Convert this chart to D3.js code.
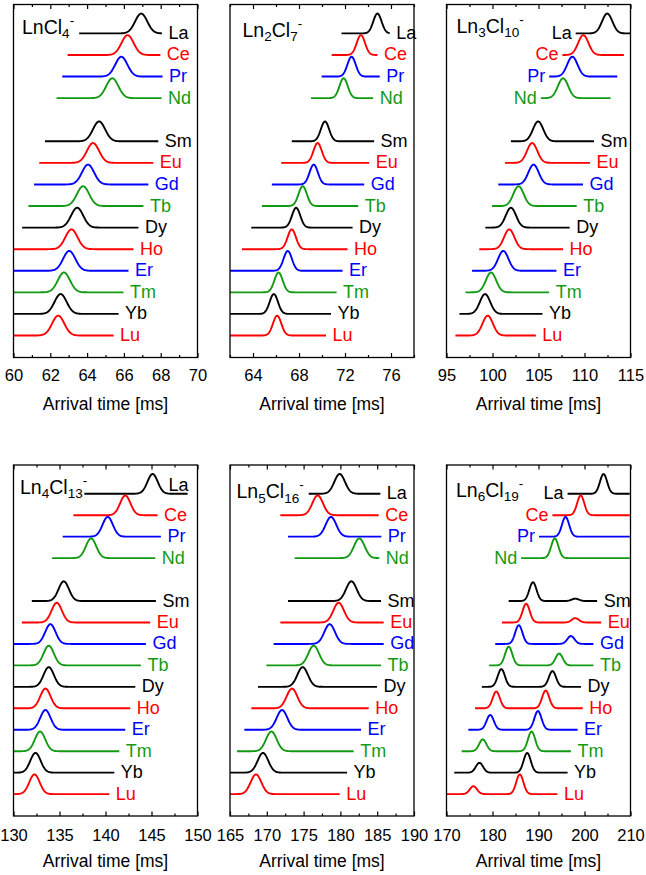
<!DOCTYPE html>
<html><head><meta charset="utf-8">
<script src="https://cdn.jsdelivr.net/npm/d3@7"></script>
<style>
body{margin:0;background:#fff}
svg{display:block}
text{font-family:Arial,"Liberation Sans",Helvetica,sans-serif}
</style>
</head><body>
<svg id="chart" width="646" height="875"></svg>
<script>
// ---------- DATA ----------
const elements = ["La","Ce","Pr","Nd","Sm","Eu","Gd","Tb","Dy","Ho","Er","Tm","Yb","Lu"];
const slots = [0,1,2,3,5,6,7,8,9,10,11,12,13,14];
const palette = ["#000000","#ff0000","#0000ff","#139a13"];

const titles = [
  [["LnCl",""],["4","sub"],["-","sup"]],
  [["Ln",""],["2","sub"],["Cl",""],["7","sub"],["-","sup"]],
  [["Ln",""],["3","sub"],["Cl",""],["10","sub"],["-","sup"]],
  [["Ln",""],["4","sub"],["Cl",""],["13","sub"],["-","sup"]],
  [["Ln",""],["5","sub"],["Cl",""],["16","sub"],["-","sup"]],
  [["Ln",""],["6","sub"],["Cl",""],["19","sub"],["-","sup"]]
];
const xTitle = "Arrival time [ms]";

const xDomains = [[60,70],[62,78],[95,115],[130,150],[165,190],[170,210]];
const majorTicks = [
  [60,62,64,66,68,70],
  [64,68,72,76],
  [95,100,105,110,115],
  [130,135,140,145,150],
  [165,170,175,180,185,190],
  [170,180,190,200,210]
];
const minorTicks = [
  [61,63,65,67,69],
  [62,66,70,74,78],
  [97.5,102.5,107.5,112.5],
  [132.5,137.5,142.5,147.5],
  [167.5,172.5,177.5,182.5,187.5],
  [175,185,195,205]
];
// peak widths (sigma, ms)
const sigmas = [0.33,0.36,0.56,0.56,0.72,0.78];

// LnCl4-
const center1 = [66.94,66.20,65.86,65.37,64.65,64.32,64.05,63.78,63.46,63.15,63.03,62.74,62.56,62.43];
const start1  = [63.57,62.94,62.65,62.34,61.71,61.40,61.12,60.81,60.47,60.0,60.0,60.0,60.0,60.0];
const end1    = [68.07,67.98,68.10,68.05,67.87,67.60,67.33,67.06,66.79,66.52,66.25,65.98,65.71,65.44];
// Ln2Cl7-
const center2 = [74.82,73.38,72.57,71.88,70.26,69.62,69.28,68.32,67.75,67.37,67.02,66.22,65.81,66.10];
const start2  = [71.70,70.84,69.97,69.05,67.37,66.45,65.64,64.77,63.85,63.04,62.0,62.0,62.0,62.0];
const end2    = [75.89,74.82,75.02,74.45,74.53,74.10,73.67,73.15,72.66,72.22,71.79,71.27,70.78,70.35];
// Ln3Cl10-
const center3 = [112.47,109.87,108.68,107.67,104.96,104.31,104.46,102.83,102.0,101.82,101.17,99.84,99.19,99.48];
const start3  = [109.04,107.6,106.16,105.25,102.0,101.35,100.63,99.95,99.22,98.57,97.78,97.06,96.41,95.97];
const end3    = [115.0,114.28,113.56,112.83,111.03,110.6,109.84,109.15,108.39,107.67,106.95,106.16,105.43,104.71];
// Ln4Cl13-
const center4 = [145.12,142.15,140.24,138.43,135.46,134.70,134.01,133.83,133.83,133.47,133.47,132.89,132.39,132.28];
const start4  = [137.70,136.51,135.35,134.20,131.99,130.90,130.0,130.0,130.0,130.0,130.0,130.0,130.0,130.0];
const end4    = [148.92,145.66,146.02,145.41,145.48,144.86,144.39,143.85,143.24,142.69,142.15,141.50,140.96,140.42];
// Ln5Cl16-
const center5 = [179.90,176.91,178.72,182.57,181.49,179.76,178.54,176.37,174.87,173.42,172.07,170.62,169.48,168.53];
const start5  = [175.69,171.84,172.88,173.79,172.88,171.84,170.93,169.94,168.80,167.90,166.95,165.95,165.0,165.0];
const end5    = [185.43,185.20,185.56,185.29,185.52,185.88,185.88,185.52,184.97,183.84,182.80,181.80,180.90,179.90];
// Ln6Cl19- (two features)
const center6a = [204.14,199.17,195.88,193.54,188.79,187.32,185.72,183.52,181.92,180.82,179.50,177.89,177.16,175.85];
const height6a = [1,1,1,1,0.95,0.95,0.95,0.95,0.9,0.85,0.75,0.6,0.5,0.4];
const center6b = [null,null,null,null,198.0,198.0,197.05,194.49,193.03,191.56,189.88,188.49,187.54,185.94];
const height6b = [0,0,0,0,0.12,0.22,0.4,0.6,0.8,0.9,0.95,1.0,1.0,1.0];
const start6  = [196.32,193.03,190.10,186.23,183.52,182.06,180.60,179.28,177.68,176.21,174.75,173.29,171.68,170.0];
const end6    = [209.84,209.84,209.84,209.84,202.75,203.63,201.94,201.94,199.24,199.61,198.50,197.05,196.32,194.12];

const centers = [center1,center2,center3,center4,center5,center6a];
const starts = [start1,start2,start3,start4,start5,start6];
const ends = [end1,end2,end3,end4,end5,end6];

// ---------- LAYOUT ----------
const W = 184;
const colX = [13.5, 230, 446.5];
const rowY = [[4.5, 357.5],[465, 816]];
const tickLabelDy = [23, 24.5];
const titleDy = [52.5, 50.5];
const titlePos = [[8.5,29],[12.5,32],[10,28],[6.5,28.5],[6.5,33],[9.5,31.5]];
const labelsLeft = [0,0,4,0,0,4];
const labelAbove = [-1,-1,-1,0,-1,-1];
const peakH = 0.92;
const FS_LABEL = 18, FS_TICK = 16.5, FS_XT = 17.5, FS_TITLE = 19.5, FS_SUB = 13.5;

const svg = d3.select("#chart");

for (let p = 0; p < 6; p++) {
  const col = p % 3, row = Math.floor(p / 3);
  const x0 = colX[col], y0 = rowY[row][0], y1 = rowY[row][1];
  const g = svg.append("g");
  const x = d3.scaleLinear().domain(xDomains[p]).range([x0, x0 + W]);
  const y = d3.scaleLinear().domain([-1.02, 15.34]).range([y1, y0]);
  const sig = sigmas[p];

  for (let i = 0; i < elements.length; i++) {
    const base = 14 - slots[i];
    const s = starts[p][i], e = ends[p][i];
    const n = 200;
    const pts = d3.range(n + 1).map(k => {
      const t = s + (e - s) * k / n;
      let v;
      if (p === 5) {
        v = height6a[i] * Math.exp(-((t - center6a[i]) ** 2) / (2 * sig * sig));
        if (center6b[i] !== null) v += height6b[i] * Math.exp(-((t - center6b[i]) ** 2) / (2 * sig * sig));
      } else {
        v = Math.exp(-((t - centers[p][i]) ** 2) / (2 * sig * sig));
      }
      return [t, base + v * peakH];
    });
    const color = palette[i % 4];
    g.append("path")
      .attr("d", d3.line().x(d => x(d[0])).y(d => y(d[1]))(pts))
      .attr("fill", "none")
      .attr("stroke", color)
      .attr("stroke-width", 1.9)
      .attr("stroke-linejoin", "round");

    const lbl = g.append("text")
      .attr("fill", color)
      .attr("font-size", FS_LABEL)
      .text(elements[i]);
    if (i < labelsLeft[p]) {
      lbl.attr("x", x(s) - 4).attr("y", y(base) + 5.5).attr("text-anchor", "end");
    } else if (i === labelAbove[p]) {
      lbl.attr("x", x(e) + 1).attr("y", y(base) - 2.5).attr("text-anchor", "end");
    } else {
      lbl.attr("x", x(e) + 6.5).attr("y", y(base) + 5.5);
    }
  }

  g.append("rect").attr("x", x0).attr("y", y0).attr("width", W).attr("height", y1 - y0)
    .attr("fill", "none").attr("stroke", "#000").attr("stroke-width", 1.3);

  const axB = d3.axisBottom(x).tickValues(majorTicks[p]).tickSize(-4.5).tickFormat("");
  const axBm = d3.axisBottom(x).tickValues(minorTicks[p]).tickSize(-2.5).tickFormat("");
  const axT = d3.axisTop(x).tickValues(majorTicks[p]).tickSize(-4.5).tickFormat("");
  const axTm = d3.axisTop(x).tickValues(minorTicks[p]).tickSize(-2.5).tickFormat("");
  [[axB, y1],[axBm, y1],[axT, y0],[axTm, y0]].forEach(([ax, yy]) => {
    const a = g.append("g").attr("transform", `translate(0,${yy})`).call(ax);
    a.select(".domain").remove();
    a.selectAll("line").attr("stroke", "#000").attr("stroke-width", 1.2);
  });

  const axL = d3.axisBottom(x).tickValues(majorTicks[p]).tickSize(0).tickPadding(0);
  const al = g.append("g").attr("transform", `translate(0,${y1})`).call(axL);
  al.select(".domain").remove();
  al.selectAll("text").attr("dy", null).attr("y", tickLabelDy[row])
    .attr("font-size", FS_TICK).attr("fill", "#000")
    .attr("font-family", "Arial, 'Liberation Sans', sans-serif");

  g.append("text").attr("x", x0 + W / 2).attr("y", y1 + titleDy[row])
    .attr("text-anchor", "middle").attr("font-size", FS_XT).text(xTitle);

  const tt = g.append("text").attr("x", x0 + titlePos[p][0]).attr("y", y0 + titlePos[p][1])
    .attr("font-size", FS_TITLE).attr("fill", "#000");
  let cur = 0;
  titles[p].forEach(([t, kind]) => {
    const target = kind === "sub" ? 4.5 : kind === "sup" ? -9 : 0;
    const ts = tt.append("tspan").text(t).attr("dy", target - cur);
    if (kind) ts.attr("font-size", FS_SUB);
    cur = target;
  });
}
</script>
</body></html>
